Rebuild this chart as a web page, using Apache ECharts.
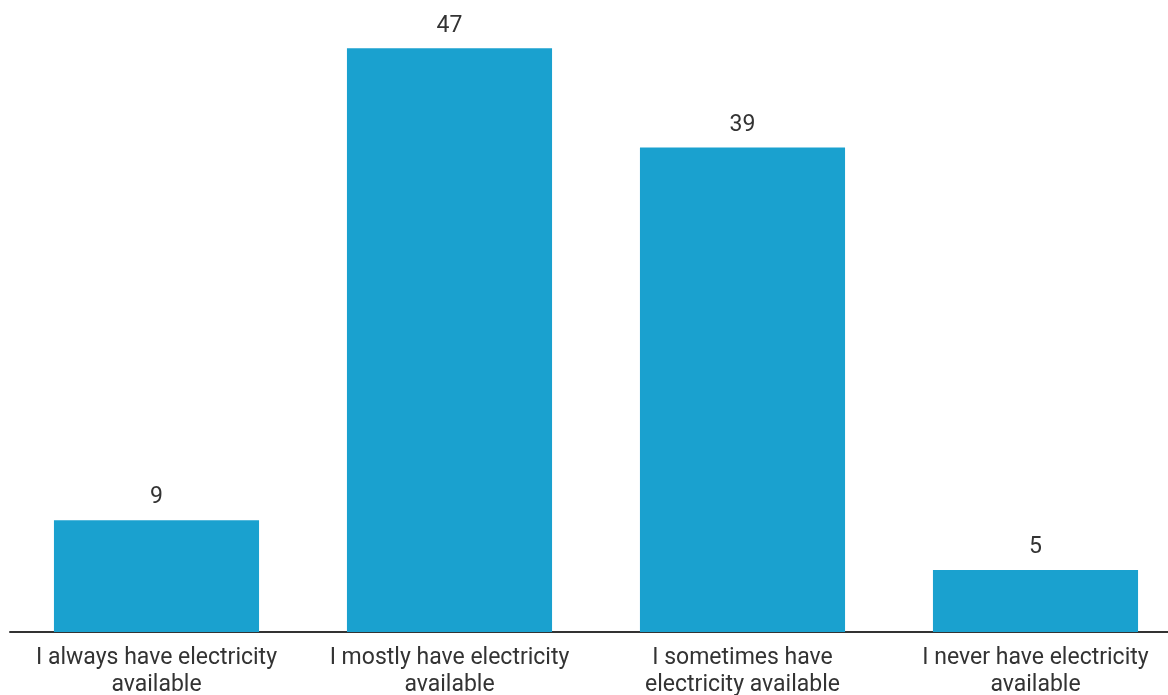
<!DOCTYPE html>
<html><head><meta charset="utf-8">
<script src="https://cdn.jsdelivr.net/npm/echarts@6/dist/echarts.min.js"></script>
<style>html,body{margin:0;padding:0;background:#fff}#c{width:1168px;height:695px}</style>
</head><body><div id="c"></div>
<script>
const categories = ["I always have electricity\navailable", "I mostly have electricity\navailable", "I sometimes have\nelectricity available", "I never have electricity\navailable"];
const values = [9, 47, 39, 5];

const chart = echarts.init(document.getElementById('c'), null, {renderer: 'canvas'});
chart.setOption({
  animation: false,
  grid: {left: 10, width: 1172, top: 11, bottom: 63, containLabel: false, outerBoundsMode: 'none'},
  xAxis: {
    type: 'category', data: categories,
    axisLine: {lineStyle: {color: '#333', width: 2}},
    axisTick: {show: false},
    axisLabel: {fontFamily: 'Roboto', fontSize: 23, color: '#333', lineHeight: 27, margin: 13, interval: 0}
  },
  yAxis: {type: 'value', min: 0, max: 50, show: false, splitLine: {show: false}},
  series: [{
    type: 'bar', data: values, barCategoryGap: '30%',
    itemStyle: {color: '#1aa1cf'},
    label: {show: true, position: 'top', distance: 11, fontFamily: 'Roboto', fontSize: 23, color: '#333'}
  }]
});
</script></body></html>
